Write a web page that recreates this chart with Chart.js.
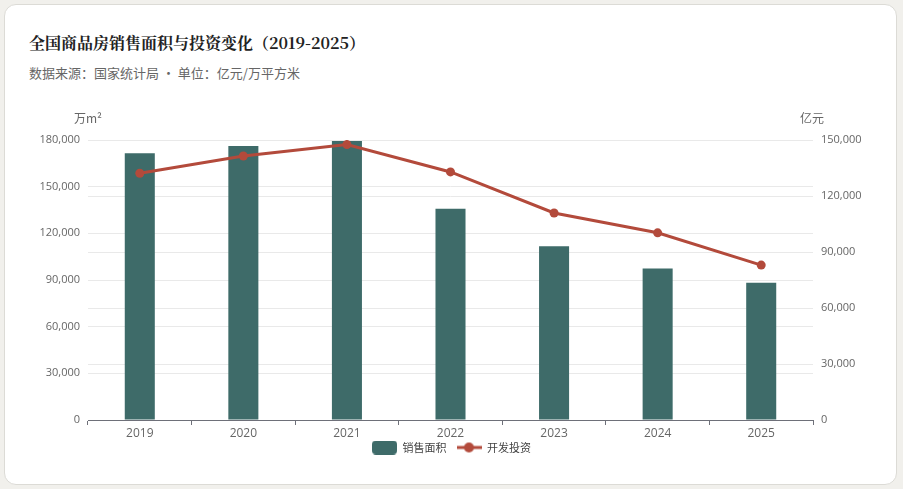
<!DOCTYPE html>
<html>
<head>
<meta charset="utf-8">
<script src="https://cdn.jsdelivr.net/npm/chart.js@4"></script>
<style>
html,body{margin:0;padding:0;}
body{width:903px;height:489px;background:#f1f0ec;position:relative;overflow:hidden;font-family:"Noto Sans CJK SC","Noto Sans",sans-serif;}
#card{position:absolute;left:4px;top:4px;width:891px;height:479px;background:#fff;border:1px solid #dcdbd6;border-radius:12px;}
#title{position:absolute;left:29px;top:31px;font-family:"Noto Serif CJK SC","Noto Sans CJK SC",serif;font-weight:bold;font-size:16px;color:#222;white-space:nowrap;line-height:24px;}
#sub{position:absolute;left:29px;top:63px;font-size:13px;color:#666;white-space:nowrap;line-height:20px;}
#wrap{position:absolute;left:0;top:0;width:903px;height:489px;}
</style>
</head>
<body>
<div id="card"></div>
<div id="title">全国商品房销售面积与投资变化（2019-2025）</div>
<div id="sub">数据来源：国家统计局 · 单位：亿元/万平方米</div>
<div id="wrap"><canvas id="c" width="903" height="489"></canvas></div>
<script>
const categories = ["2019", "2020", "2021", "2022", "2023", "2024", "2025"];
const salesArea = [171558, 176086, 179433, 135837, 111735, 97385, 88300];
const investment = [132194, 141443, 147602, 132895, 110913, 100280, 83000];
const leftTicksMax = 180000;
const rightTicksMax = 150000;
const tickStep = 30000;
const seriesNames = ["销售面积", "开发投资"];
const axisNames = ["万m²", "亿元"];

const BAR = "#3e6b69";
const LINE = "#b34a3b";
const tickFont = {family: "'Open Sans','Noto Sans CJK SC',sans-serif", size: 11};

function makeBarSwatch() {
  const c = document.createElement('canvas'); c.width = 25; c.height = 14;
  const g = c.getContext('2d'); g.fillStyle = BAR;
  g.beginPath(); g.roundRect(0, 0, 25, 14, 4); g.fill();
  return c;
}
function makeLineSwatch() {
  const c = document.createElement('canvas'); c.width = 25; c.height = 14;
  const g = c.getContext('2d');
  g.strokeStyle = LINE; g.lineWidth = 3;
  g.beginPath(); g.moveTo(0, 7); g.lineTo(25, 7); g.stroke();
  g.fillStyle = LINE; g.beginPath(); g.arc(12.5, 7, 5, 0, Math.PI * 2); g.fill();
  return c;
}
const swatches = [makeBarSwatch(), makeLineSwatch()];

const axisNamePlugin = {
  id: 'axisNames',
  afterLayout(chart) {
    if (chart.legend) { chart.legend.top -= 8; chart.legend.bottom -= 8; }
  },
  afterDraw(chart) {
    const ctx = chart.ctx, a = chart.chartArea;
    ctx.save();
    ctx.font = "12px 'Noto Sans CJK SC','Open Sans',sans-serif";
    ctx.fillStyle = '#666';
    ctx.textAlign = 'center'; ctx.textBaseline = 'middle';
    ctx.fillText(axisNames[0], chart.scales.y.right, a.top - 22);
    ctx.fillText(axisNames[1], chart.scales.y1.left - 1, a.top - 22);
    ctx.restore();
  }
};

const fmt = v => Number(v).toLocaleString('en-US');

new Chart(document.getElementById('c'), {
  type: 'bar',
  data: {
    labels: categories,
    datasets: [
      {type: 'bar', label: seriesNames[0], data: salesArea, backgroundColor: BAR, yAxisID: 'y', order: 1,
       categoryPercentage: 1, barPercentage: 0.29},
      {type: 'line', label: seriesNames[1], data: investment, borderColor: LINE, backgroundColor: LINE, borderWidth: 3,
       pointRadius: 4.5, pointBackgroundColor: LINE, pointBorderWidth: 0, tension: 0, yAxisID: 'y1', order: 0}
    ]
  },
  options: {
    responsive: false,
    animation: false,
    layout: {padding: {top: 140, left: 0, right: 0, bottom: 18}},
    plugins: {
      tooltip: {enabled: false},
      legend: {
        position: 'bottom',
        labels: {
          usePointStyle: true,
          pointStyleWidth: 25,
          padding: 10,
          color: '#444',
          font: {family: "'Noto Sans CJK SC',sans-serif", size: 11},
          generateLabels(chart) {
            return chart.data.datasets.map((d, i) => ({
              text: d.label, pointStyle: swatches[i], fillStyle: 'transparent', strokeStyle: 'transparent',
              lineWidth: 0, hidden: false, datasetIndex: i, fontColor: '#444'
            }));
          }
        }
      }
    },
    scales: {
      x: {
        offset: true,
        grid: {display: true, offset: true, drawOnChartArea: false, drawTicks: true, tickLength: 5, color: '#6e7079'},
        border: {display: true, color: '#6e7079', width: 1},
        ticks: {color: '#666', padding: 1, font: {family: "'Open Sans',sans-serif", size: 12}},
        afterFit(s) { s.height = 20; }
      },
      y: {
        position: 'left', min: 0, max: leftTicksMax,
        ticks: {stepSize: tickStep, color: '#666', padding: 8, font: tickFont, callback: fmt},
        grid: {color: '#e9e9e9', drawTicks: false},
        border: {display: false},
        afterFit(s) { s.width = 88; }
      },
      y1: {
        position: 'right', min: 0, max: rightTicksMax,
        ticks: {stepSize: tickStep, color: '#666', padding: 8, font: tickFont, callback: fmt},
        grid: {color: '#e9e9e9', drawTicks: false},
        border: {display: false},
        afterFit(s) { s.width = 90; }
      }
    }
  },
  plugins: [axisNamePlugin]
});
</script>
</body>
</html>
